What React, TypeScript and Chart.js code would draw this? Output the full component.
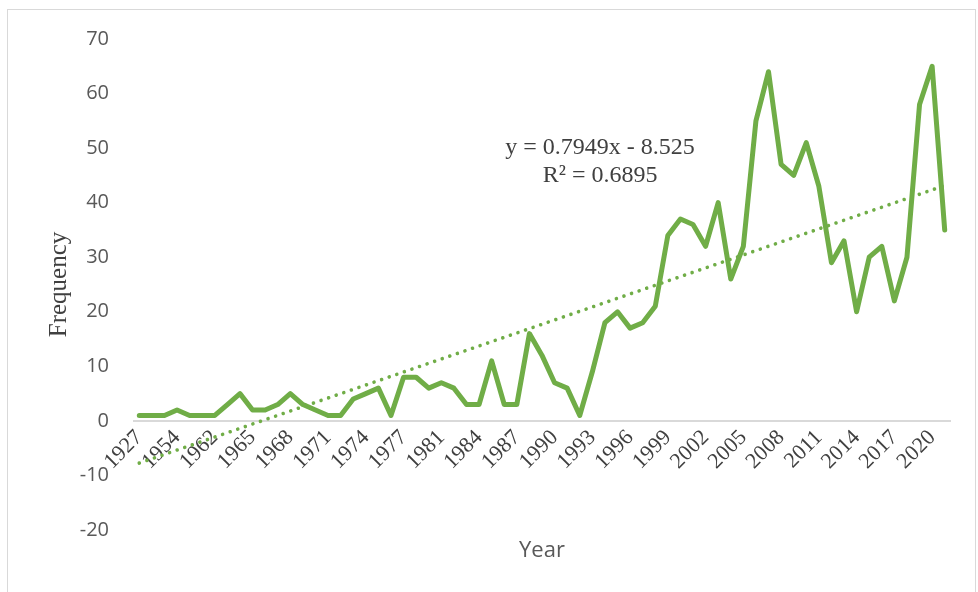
import React, { useEffect, useRef } from "react";
import { Chart, registerables } from "chart.js";

Chart.register(...registerables);

// Categories (years shown on the axis, every third one is labelled)
const years: number[] = [
  1927, 1938, 1949, 1954, 1956, 1959,
  1962, 1963, 1964, 1965, 1966, 1967, 1968, 1969, 1970, 1971, 1972, 1973, 1974, 1975, 1976, 1977,
  1978, 1979,
  1981, 1982, 1983, 1984, 1985, 1986, 1987, 1988, 1989, 1990, 1991, 1992, 1993, 1994, 1995, 1996,
  1997, 1998, 1999, 2000, 2001, 2002, 2003, 2004, 2005, 2006, 2007, 2008, 2009, 2010, 2011, 2012,
  2013, 2014, 2015, 2016, 2017, 2018, 2019, 2020, 2021,
];

// Frequency per year
const frequency: number[] = [
  1, 1, 1, 2, 1, 1, 1, 3, 5, 2,
  2, 3, 5, 3, 2, 1, 1, 4, 5, 6,
  1, 8, 8, 6, 7, 6, 3, 3, 11, 3,
  3, 16, 12, 7, 6, 1, 9, 18, 20, 17,
  18, 21, 34, 37, 36, 32, 40, 26, 32, 55,
  64, 47, 45, 51, 43, 29, 33, 20, 30, 32,
  22, 30, 58, 65, 35,
];

// Linear trendline values at the first and last category
const trendEnds: number[] = [-7.73, 43.14];

// Y axis tick range
const yTicks: number[] = [-20, -10, 0, 10, 20, 30, 40, 50, 60, 70];

const equationLines: string[] = ["y = 0.7949x - 8.525", "R\u00B2 = 0.6895"];

const labels = years.map(String);

export default function App() {
  const canvasRef = useRef<HTMLCanvasElement | null>(null);

  useEffect(() => {
    const canvas = canvasRef.current;
    if (!canvas) return;

    const trendData = frequency.map((_, i) =>
      i === 0 ? trendEnds[0] : i === frequency.length - 1 ? trendEnds[1] : null
    );

    const equationPlugin = {
      id: "equationText",
      afterDatasetsDraw(chart: any) {
        const { ctx, chartArea } = chart;
        const cx = chartArea.left + (chartArea.right - chartArea.left) * 0.571;
        const cy = chartArea.top + 109;
        ctx.save();
        ctx.font = '24px "Liberation Serif"';
        ctx.fillStyle = "#404040";
        ctx.textAlign = "center";
        ctx.textBaseline = "middle";
        ctx.fillText(equationLines[0], cx, cy);
        ctx.fillText(equationLines[1], cx, cy + 28);
        ctx.restore();
      },
    };

    const chart = new Chart(canvas, {
      type: "line",
      data: {
        labels,
        datasets: [
          {
            label: "Linear (Frequency)",
            data: trendData,
            xAxisID: "x",
            yAxisID: "y",
            borderColor: "#70AD47",
            borderWidth: 3.6,
            borderDash: [0.01, 8],
            borderCapStyle: "round",
            pointRadius: 0,
            spanGaps: true,
            fill: false,
          },
          {
            label: "Frequency",
            data: frequency,
            xAxisID: "x",
            yAxisID: "y",
            borderColor: "#70AD47",
            borderWidth: 5,
            borderJoinStyle: "round",
            borderCapStyle: "round",
            pointRadius: 0,
            tension: 0,
            fill: false,
          },
        ],
      },
      options: {
        responsive: false,
        animation: false,
        layout: { padding: { left: 44.6, right: 27, top: 39, bottom: 27.8 } },
        plugins: {
          legend: { display: false },
          tooltip: { enabled: false },
        },
        scales: {
          x: {
            type: "category",
            position: "bottom",
            offset: true,
            grid: { display: false, drawTicks: false },
            border: { display: false },
            ticks: { display: false },
            title: {
              display: true,
              text: "Year",
              color: "#595959",
              font: { family: '"Open Sans"', size: 22 },
              padding: { top: 7.8, bottom: 0 },
            },
            afterFit: (s: any) => {
              s.height = 34.2;
            },
          },
          xl: {
            type: "category",
            axis: "x",
            position: { y: 0 },
            offset: true,
            grid: { display: false, drawTicks: false },
            border: { display: false },
            ticks: {
              autoSkip: false,
              minRotation: 45,
              maxRotation: 45,
              padding: 4,
              color: "#404040",
              font: { family: '"Liberation Serif"', size: 22 },
              callback: (_v: any, idx: number) => (idx % 3 === 0 ? labels[idx] : ""),
            },
          },
          y: {
            type: "linear",
            position: "left",
            min: yTicks[0],
            max: yTicks[yTicks.length - 1],
            border: { display: false },
            grid: {
              drawTicks: false,
              lineWidth: 2,
              color: (c: any) => (c.tick && c.tick.value === 0 ? "#d9d9d9" : "rgba(0,0,0,0)"),
            },
            ticks: {
              stepSize: 10,
              padding: 24,
              color: "#595959",
              font: { family: '"Open Sans"', size: 20 },
            },
            title: {
              display: true,
              text: "Frequency",
              color: "#404040",
              font: { family: '"Liberation Serif"', size: 25 },
              padding: { top: 0, bottom: 6.3 },
            },
            afterFit: (s: any) => {
              s.width = 88.4;
            },
          },
        },
      },
      plugins: [equationPlugin],
    } as any);

    return () => chart.destroy();
  }, []);

  return (
    <div
      style={{
        position: "fixed",
        left: 0,
        top: 0,
        width: 978,
        height: 592,
        background: "#ffffff",
      }}
    >
      <canvas ref={canvasRef} width={978} height={592} style={{ display: "block" }} />
      <div
        style={{
          position: "absolute",
          left: 7,
          top: 9,
          width: 969,
          height: 590,
          border: "1px solid #d9d9d9",
          boxSizing: "border-box",
          pointerEvents: "none",
        }}
      />
    </div>
  );
}
